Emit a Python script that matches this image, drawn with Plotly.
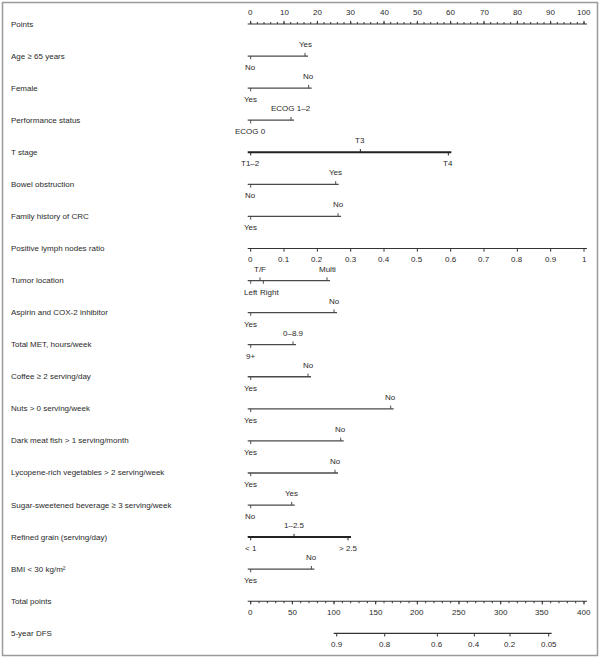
import plotly.graph_objects as go

# ---------------- data ----------------
row_names = [
    "Points", "Age ≥ 65 years", "Female", "Performance status", "T stage",
    "Bowel obstruction", "Family history of CRC", "Positive lymph nodes ratio",
    "Tumor location", "Aspirin and COX-2 inhibitor", "Total MET, hours/week",
    "Coffee ≥ 2 serving/day", "Nuts > 0 serving/week", "Dark meat fish > 1 serving/month",
    "Lycopene-rich vegetables > 2 serving/week", "Sugar-sweetened beverage ≥ 3 serving/week",
    "Refined grain (serving/day)", "BMI < 30 kg/m²", "Total points", "5-year DFS",
]

points_ticks = [0, 10, 20, 30, 40, 50, 60, 70, 80, 90, 100]
points_minor = list(range(0, 101, 2))

age_pts = [0, 16.3];            age_lvls = ["No", "Yes"]
female_pts = [0, 17.4];         female_lvls = ["Yes", "No"]
perf_pts = [0, 12.1];           perf_lvls = ["ECOG 0", "ECOG 1–2"]
tstage_pts = [0, 32.9, 59.3];   tstage_lvls = ["T1–2", "T3", "T4"]
bowel_pts = [0, 25.5];          bowel_lvls = ["No", "Yes"]
family_pts = [0, 26.2];         family_lvls = ["Yes", "No"]
lnr_ticks = [0, 0.1, 0.2, 0.3, 0.4, 0.5, 0.6, 0.7, 0.8, 0.9, 1]
lnr_labels = ["0", "0.1", "0.2", "0.3", "0.4", "0.5", "0.6", "0.7", "0.8", "0.9", "1"]
tumor_pts = [0, 2.8, 3.8, 22.9]; tumor_lvls = ["Left", "T/F", "Right", "Multi"]
aspirin_pts = [0, 25.0];        aspirin_lvls = ["Yes", "No"]
met_pts = [0, 12.7];            met_lvls = ["9+", "0–8.9"]
coffee_pts = [0, 17.2];         coffee_lvls = ["Yes", "No"]
nuts_pts = [0, 42.0];           nuts_lvls = ["Yes", "No"]
fish_pts = [0, 27.0];           fish_lvls = ["Yes", "No"]
lyco_pts = [0, 25.3];           lyco_lvls = ["Yes", "No"]
ssb_pts = [0, 12.3];            ssb_lvls = ["No", "Yes"]
grain_pts = [0, 13.0, 29.2];    grain_lvls = ["< 1", "1–2.5", "> 2.5"]
bmi_pts = [0, 18.2];            bmi_lvls = ["Yes", "No"]

total_ticks = [0, 50, 100, 150, 200, 250, 300, 350, 400]
total_minor = list(range(0, 401, 10))

dfs_values = ["0.9", "0.8", "0.6", "0.4", "0.2", "0.05"]
dfs_total = [103.2, 160.8, 224.0, 268.4, 311.2, 357.6]

# ---------------- layout geometry (styles) ----------------
W, H = 600, 658
X0_PX, PX_PER_PT = 250.7, 3.333          # points 0 at pixel 250.7
ROW0_PX, ROW_PX = 24.0, 32.07            # row pixel positions
FONT = "Liberation Sans, Arial, sans-serif"
FS = 8
TXT = "#2a2a2a"

def xr(scale):
    return [(-X0_PX) / PX_PER_PT * scale, (W - X0_PX) / PX_PER_PT * scale]

y_range = [(H - ROW0_PX) / ROW_PX, -ROW0_PX / ROW_PX]
TICK = 3.2 / ROW_PX
TICK_MIN = 2.0 / ROW_PX
EXT_PX = 3.0

fig = go.Figure()
annotations = []

def add_line(row, xs, axis, scale, width, color):
    ext = EXT_PX / PX_PER_PT * scale
    fig.add_trace(go.Scatter(x=[min(xs) - ext, max(xs) + ext], y=[row, row], mode="lines",
                             line=dict(color=color, width=width), xaxis=axis, yaxis="y",
                             hoverinfo="skip", showlegend=False))

def add_ticks(row, xs, dirs, axis, length, color, width=1):
    tx, ty = [], []
    for x, d in zip(xs, dirs):
        tx += [x, x, None]
        ty += [row, row - length if d == "up" else row + length, None]
    fig.add_trace(go.Scatter(x=tx, y=ty, mode="lines", line=dict(color=color, width=width),
                             xaxis=axis, yaxis="y", hoverinfo="skip", showlegend=False))

def add_label(row, x, text, side, axis, xshift=0, xanchor="center"):
    annotations.append(dict(x=x, y=row, xref=axis, yref="y", text=text, showarrow=False,
                            yshift=11.5 if side == "up" else -11.5, xshift=xshift,
                            xanchor=xanchor, yanchor="middle",
                            font=dict(family=FONT, size=FS, color=TXT)))

def category_row(row, pts, lvls, sides, width=1.3, color="#4a4a4a", shifts=None):
    add_line(row, pts, "x", 1, width, color)
    add_ticks(row, pts, sides, "x", TICK, color)
    for i, (p, l, s) in enumerate(zip(pts, lvls, sides)):
        add_label(row, p, l, s, "x", xshift=(shifts[i] if shifts else 0))

# row labels
for i, name in enumerate(row_names):
    annotations.append(dict(x=8.7 / W, y=i, xref="paper", yref="y", text=name,
                            showarrow=False, xanchor="left", yanchor="middle",
                            font=dict(family=FONT, size=FS, color=TXT)))

# Points axis
add_line(0, points_ticks, "x", 1, 1.2, "#333333")
add_ticks(0, points_minor, ["up"] * len(points_minor), "x", TICK_MIN, "#333333")
add_ticks(0, points_ticks, ["up"] * len(points_ticks), "x", TICK, "#333333")
for t in points_ticks:
    add_label(0, t, str(t), "up", "x")

UD = ["down", "up"]
category_row(1, age_pts, age_lvls, UD)
category_row(2, female_pts, female_lvls, UD)
category_row(3, perf_pts, perf_lvls, UD)
category_row(4, tstage_pts, tstage_lvls, ["down", "up", "down"], width=2, color="#222222")
category_row(5, bowel_pts, bowel_lvls, UD)
category_row(6, family_pts, family_lvls, UD)

# Positive lymph nodes ratio (continuous)
add_line(7, lnr_ticks, "x3", 0.01, 1.2, "#333333")
add_ticks(7, lnr_ticks, ["down"] * len(lnr_ticks), "x3", TICK, "#333333")
for t, l in zip(lnr_ticks, lnr_labels):
    add_label(7, t, l, "down", "x3")

category_row(8, tumor_pts, tumor_lvls, ["down", "up", "down", "up"], shifts=[0, 0, 6, 0])
category_row(9, aspirin_pts, aspirin_lvls, UD)
category_row(10, met_pts, met_lvls, UD)
category_row(11, coffee_pts, coffee_lvls, UD)
category_row(12, nuts_pts, nuts_lvls, UD)
category_row(13, fish_pts, fish_lvls, UD)
category_row(14, lyco_pts, lyco_lvls, UD)
category_row(15, ssb_pts, ssb_lvls, UD)
category_row(16, grain_pts, grain_lvls, ["down", "up", "down"], width=2, color="#222222")
category_row(17, bmi_pts, bmi_lvls, UD)

# Total points
add_line(18, total_ticks, "x2", 4, 1.2, "#333333")
add_ticks(18, total_minor, ["down"] * len(total_minor), "x2", TICK_MIN, "#333333")
add_ticks(18, total_ticks, ["down"] * len(total_ticks), "x2", TICK, "#333333")
for t in total_ticks:
    add_label(18, t, str(t), "down", "x2")

# 5-year DFS
add_line(19, dfs_total, "x2", 4, 1.2, "#333333")
add_ticks(19, dfs_total, ["down"] * len(dfs_total), "x2", TICK, "#333333")
for t, l in zip(dfs_total, dfs_values):
    add_label(19, t, l, "down", "x2")

hidden = dict(visible=False, showgrid=False, zeroline=False, fixedrange=True)
fig.update_layout(
    width=W, height=H, margin=dict(l=0, r=0, t=0, b=0),
    paper_bgcolor="white", plot_bgcolor="white",
    xaxis=dict(range=xr(1), **hidden),
    xaxis2=dict(range=xr(4), overlaying="x", **hidden),
    xaxis3=dict(range=xr(0.01), overlaying="x", **hidden),
    yaxis=dict(range=y_range, **hidden),
    annotations=annotations,
    shapes=[dict(type="rect", xref="paper", yref="paper", x0=2.5 / W, x1=(W - 2.5) / W,
                 y0=2.5 / H, y1=1 - 2.5 / H, line=dict(color="#9a9a9a", width=1.5))],
    showlegend=False,
)

fig.write_html("out.html", config={"displayModeBar": False},
               post_script="document.body.style.margin='0';document.body.style.overflow='hidden';")
